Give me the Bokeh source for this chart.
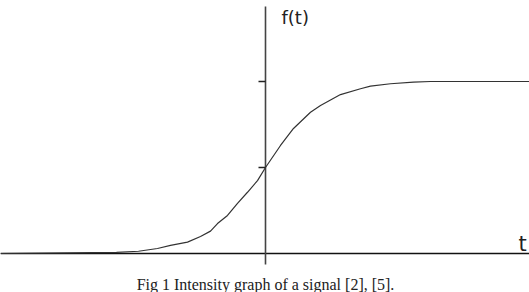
from bokeh.plotting import figure
from bokeh.models import Label, Range1d
from bokeh.embed import file_html
from bokeh.resources import INLINE

# curve (t, f(t)), f normalised so the upper tick = 1
t_vals = [-2.65, -1.49, -1.27, -1.08, -0.95, -0.78, -0.65, -0.55, -0.48, -0.38,
          -0.28, -0.18, -0.08, 0.0, 0.15, 0.28, 0.45, 0.55, 0.75, 0.95,
          1.05, 1.25, 1.48, 1.65, 2.64]
f_vals = [0.0, 0.006, 0.013, 0.029, 0.047, 0.066, 0.099, 0.130, 0.174, 0.221,
          0.292, 0.356, 0.424, 0.5, 0.628, 0.727, 0.821, 0.860, 0.924, 0.958,
          0.973, 0.987, 0.996, 1.0, 1.0]
y_ticks = [0.5, 1.0]
x_ticks = [0.0]
x_label = "t"
y_label = "f(t)"
caption = "Fig 1 Intensity graph of a signal [2], [5]."

W, H = 529, 292
p = figure(width=W, height=H, output_backend="svg", toolbar_location=None,
           min_border=0, outline_line_color=None,
           x_range=Range1d(-2.65, 2.64), y_range=Range1d(-0.2267, 1.4709))
p.axis.visible = False
p.grid.visible = False
p.background_fill_color = "white"
p.border_fill_color = "white"

# horizontal axis
p.segment(x0=[-2.65], y0=[0], x1=[2.64], y1=[0], line_color="#111111", line_width=1.6)
# vertical axis
p.segment(x0=[0], y0=[-0.064], x1=[0], y1=[1.436], line_color="#444444", line_width=1.6)
# y ticks
p.segment(x0=[-0.07] * len(y_ticks), y0=y_ticks, x1=[0] * len(y_ticks), y1=y_ticks,
          line_color="#222222", line_width=1.3)

# curve
p.line(t_vals, f_vals, line_color="#333333", line_width=1.2)

p.add_layout(Label(x=281, y=H - 6, x_units="screen", y_units="screen", text=y_label,
                   text_font="DejaVu Sans", text_font_size="18px", text_color="#222222",
                   text_baseline="top", text_align="left"))
p.add_layout(Label(x=518, y=H - 243, x_units="screen", y_units="screen", text=x_label,
                   text_font="DejaVu Sans", text_font_size="21px", text_color="#222222",
                   text_baseline="alphabetic", text_align="left"))
p.add_layout(Label(x=265, y=H - 284, x_units="screen", y_units="screen", text=caption,
                   text_font="Liberation Serif", text_font_size="16px", text_color="#222222",
                   text_baseline="alphabetic", text_align="center"))

open("out.html", "w").write(file_html(p, INLINE))
